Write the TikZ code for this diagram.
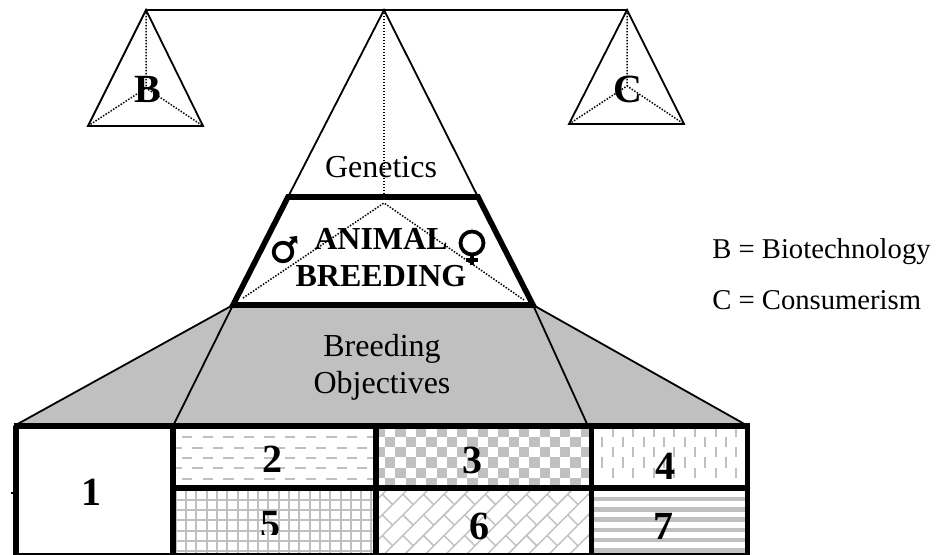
\documentclass[tikz,border=0pt]{standalone}
\usepackage{fontspec}
\setmainfont{Liberation Serif}
\definecolor{hatch}{HTML}{C0C0C0}
\tikzset{
  px/.style={x=0.75pt,y=-0.75pt},
  thin line/.style={draw=black,line width=1.8*0.75pt},
  dot line/.style={draw=black,line width=1.5*0.75pt,dash pattern=on 1.1pt off 1.15pt},
  thick line/.style={draw=black,line width=5.6*0.75pt},
  pat/.style={draw=hatch,line width=2*0.75pt},
  lab/.style={font=\fontsize{24}{26}\selectfont,align=center,inner sep=0pt},
  side/.style={font=\fontsize{21.5}{24}\selectfont,anchor=base west,inner sep=0pt},
  num/.style={font=\fontsize{30}{32}\selectfont\bfseries,inner sep=0pt},
  sym/.style={draw=black,line width=3.8*0.75pt},
}
\begin{document}
\begin{tikzpicture}[px]
\useasboundingbox (0,0) rectangle (938,555);
% vertices
\coordinate (La) at (146,10); \coordinate (Ll) at (88,126); \coordinate (Lr) at (203,126); \coordinate (Lc) at (146,88);
\coordinate (Ra) at (627,10); \coordinate (Rl) at (569,124); \coordinate (Rr) at (684,124); \coordinate (Rc) at (627,86);
\coordinate (Ca) at (384,10); \coordinate (Tl) at (288,197); \coordinate (Tr) at (478,197);
\coordinate (Bl) at (233,305); \coordinate (Br) at (533,305); \coordinate (Cm) at (384,197); \coordinate (Cc) at (384,203);
\coordinate (Dl) at (243,298); \coordinate (Dr) at (524,300);
\coordinate (Gl) at (14,426); \coordinate (Gr) at (748,426); \coordinate (Sl) at (173,426); \coordinate (Sr) at (588,426);
% gray
\fill[hatch] (Bl) -- (Br) -- (Gr) -- (Gl) -- cycle;
\draw[thin line] (Gl) -- (Bl) -- (Sl) (Gr) -- (Br) -- (Sr);
% beam and pans
\draw[thin line] (La) -- (Ra);
\draw[thin line] (La) -- (Ll) -- (Lr) -- cycle;
\draw[thin line] (Ra) -- (Rl) -- (Rr) -- cycle;
\draw[thin line] (Tl) -- (Ca) -- (Tr);
\draw[dot line] (La) -- (Lc) (Ll) -- (Lc) -- (Lr);
\draw[dot line] (Ra) -- (Rc) (Rl) -- (Rc) -- (Rr);
\draw[dot line] (Ca) -- (Cm);
\draw[dot line] (Dl) -- (Cc) -- (Dr);
% patterns
\begin{scope}
\clip (173,426) rectangle (376,488);
\foreach \r in {0,...,4}{
  \pgfmathsetmacro{\yy}{437.3+10.3*\r}
  \pgfmathsetmacro{\off}{mod(\r,2)*10.3}
  \foreach \k in {0,...,10}{
    \draw[pat] ({161.4-\off+20.6*\k},\yy) -- ++(10.3,0);
  }
}
\end{scope}
\begin{scope}
\clip (376,426) rectangle (592,488);
\foreach \r in {0,...,5}{\foreach \k in {0,...,21}{
  \pgfmathtruncatemacro{\q}{mod(\r+\k,2)}
  \ifnum\q=0
    \fill[hatch] ({374.7+10.3*\k},{426.4+10.3*\r}) rectangle ++(10.3,10.3);
  \fi
}}
\end{scope}
\begin{scope}
\clip (592,426) rectangle (748,488);
\foreach \c in {0,...,14}{\foreach \r in {0,1,2}{
  \draw[pat] ({602.3+10.3*\c},{436.7-20.6+10.3*mod(\c,2)+20.6*\r}) -- ++(0,10.3);
}}
\end{scope}
\begin{scope}
\clip (173,488) rectangle (376,555);
\foreach \k in {0,...,20}{ \draw[pat] ({175.7+10.3*\k},488) -- ++(0,67); }
\foreach \k in {0,...,6}{ \draw[pat] (173,{489.5+10.3*\k}) -- ++(203,0); }
\end{scope}
\begin{scope}
\clip (376,488) rectangle (592,555);
\foreach \i in {-1,...,11}{\foreach \j in {-1,...,4}{
  \pgfmathsetmacro{\bx}{372+20.6*\i}
  \pgfmathsetmacro{\by}{484+20.6*\j}
  \draw[pat,line width=1.1pt] (\bx,{\by+20.6}) -- ++(20.6,-20.6);
  \draw[pat,line width=1.1pt] ({\bx+10.3},{\by+10.3}) -- ++(10.3,10.3);
}}
\end{scope}
\begin{scope}
\clip (592,488) rectangle (748,555);
\foreach \k in {0,...,6}{ \fill[hatch] (592,{488.7-2.2+10.3*\k}) rectangle ++(156,4.4); }
\end{scope}
% table
\draw[thick line,line width=6*0.75pt] (13.5,426.3) -- (750,426.3);
\draw[thick line] (16,426) -- (16,555);
\draw[thick line] (173,426) -- (173,555);
\draw[thick line] (376,426) -- (376,555);
\draw[thick line,line width=4.8*0.75pt] (591.7,426) -- (591.7,555);
\draw[thick line] (747.5,426) -- (747.5,555);
\draw[thick line] (171,488) -- (750,488);
\draw[thin line] (14,554) -- (748,554);
\draw[thin line] (11,493) -- (15,493);
% trapezoid
\draw[thick line,line join=miter] (Tl) -- (Tr) -- (Br) -- (Bl) -- cycle;
% labels
\node[num] (n1) at (91,492) {1};
\node[num] (n2) at (272,459) {2};
\node[num] (n3) at (472,460) {3};
\node[num] (n4) at (665,466) {4};
\begin{scope}
\clip (173,490) rectangle (376,534);
\node[num] (n5) at (270,525) {5};
\end{scope}
\node[num] (n6) at (479,526) {6};
\node[num] (n7) at (663,526) {7};
\node[num] (nB) at (147.5,89) {B};
\node[num] (nC) at (628,89) {C};
\node[lab] (gen) at (381,167) {Genetics};
\node[lab,font=\fontsize{24}{27.75}\selectfont\bfseries] (ab) at (381,258) {ANIMAL\\BREEDING};
\node[lab,font=\fontsize{24}{27.5}\selectfont] (bo) at (382,367) {Breeding\\Objectives};
\node[side] (kb) at (712,258.5) {B = Biotechnology};
\node[side] (kc) at (712,310) {C = Consumerism};
% symbols
\draw[sym] (283,252) circle (9.3);
\draw[sym] (289.5,245) -- (295,239);
\fill (297,236) -- (297.5,244) -- (289,237) -- cycle;
\draw[sym] (472,243) circle (11.5);
\draw[sym] (472,255) -- (472,265);
\draw[sym] (465.5,260) -- (478,260);
\end{tikzpicture}
\end{document}
